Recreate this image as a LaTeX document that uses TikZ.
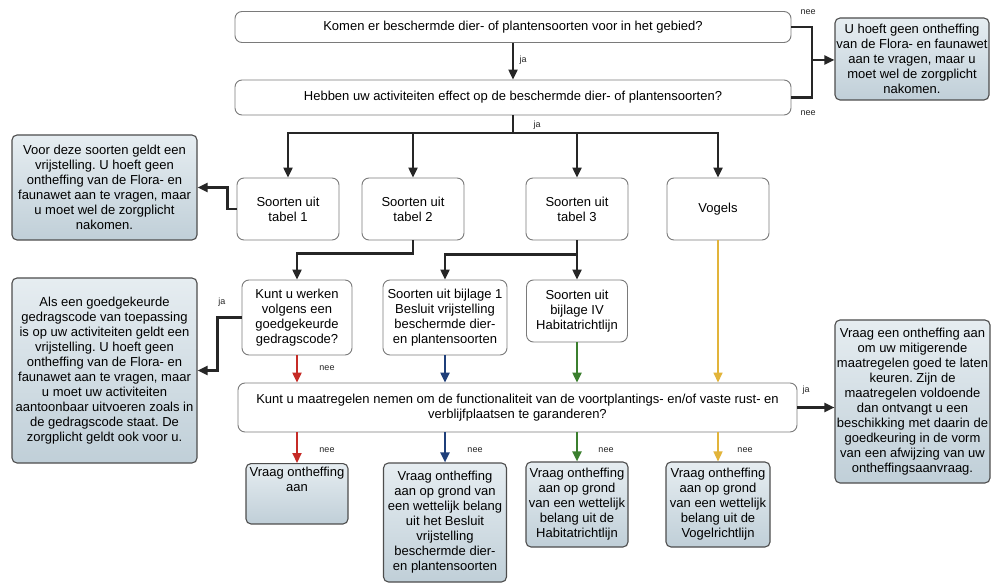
\documentclass[tikz,border=0pt]{standalone}
\usepackage{fontspec}
\setmainfont{Liberation Sans}
\usepackage{tikz}
\usetikzlibrary{arrows.meta,positioning,calc}
\definecolor{flowblack}{HTML}{262626}
\definecolor{flowred}{HTML}{C62B26}
\definecolor{flowblue}{HTML}{1F3F7A}
\definecolor{flowgreen}{HTML}{3B7F2E}
\definecolor{flowyellow}{HTML}{E2B43A}
\definecolor{boxedge}{HTML}{4D4D4D}
\definecolor{qedge}{HTML}{7A7A7A}
\definecolor{infotop}{HTML}{E6EDF1}
\definecolor{infobot}{HTML}{C0CFD8}
\frenchspacing

\begin{document}
\begin{tikzpicture}[x=1pt, y=1pt,
  question/.style={draw=qedge, line width=0.9pt, rounded corners=7pt, fill=white,
                   align=center, font=\fontsize{13}{15}\selectfont, inner sep=2pt},
  infobox/.style={draw=boxedge, line width=1.1pt, rounded corners=5pt,
                  top color=infotop, bottom color=infobot, align=center,
                  font=\fontsize{13}{15}\selectfont, inner xsep=1pt, inner ysep=2pt},
  flow/.style={draw=flowblack, line width=2.2pt, -{Triangle[length=10pt,width=9pt]}},
  link/.style={draw=flowblack, line width=2.2pt},
  colflow/.style={draw=#1, line width=2.2pt, -{Triangle[length=10pt,width=9pt]}},
  answer/.style={font=\fontsize{9}{10}\selectfont, text=flowblack, inner sep=0pt}]

  \fill[white] (0,0) rectangle (991,-585);
  \useasboundingbox (0,0) rectangle (991,-585);

  %% Top questions
  \node[question, minimum width=556, minimum height=31] (komen) at (513,-27)
    {Komen er beschermde dier- of plantensoorten voor in het gebied?};
  \node[question, minimum width=556, minimum height=35] (hebben) at (513,-97.5)
    {Hebben uw activiteiten effect op de beschermde dier- of plantensoorten?};

  \node[infobox, minimum width=154, minimum height=82] (geenont) at (912,-59)
    {U hoeft geen ontheffing\\van de Flora- en faunawet\\aan te vragen, maar u\\
     moet wel de zorgplicht\\nakomen.};

  \coordinate (neejoin) at (812,-60);
  \coordinate (jabus) at (513,-133);

  \draw[flow] (komen) -- (hebben);
  \node[answer] (ja1) at (523,-60) {ja};
  \draw[link] (komen.east) -| (neejoin);
  \draw[link] (hebben.east) -| (neejoin);
  \draw[flow] (neejoin) -- (neejoin -| geenont.west);
  \node[answer] (nee1) at (808,-12) {nee};
  \node[answer] (nee2) at (808,-113) {nee};

  %% Species groups
  \node[question, minimum width=102, minimum height=62] (tabel1) at (288,-209)
    {Soorten uit\\tabel 1};
  \node[question, minimum width=102, minimum height=62] (tabel2) at (413,-209)
    {Soorten uit\\tabel 2};
  \node[question, minimum width=102, minimum height=62] (tabel3) at (577,-209)
    {Soorten uit\\tabel 3};
  \node[question, minimum width=102, minimum height=62] (vogels) at (718,-209)
    {Vogels};

  \draw[link] (hebben.south) -- (jabus);
  \node[answer] (ja2) at (537,-125) {ja};
  \draw[flow] (jabus) -| (tabel1.north);
  \draw[flow] (jabus) -| (tabel2.north);
  \draw[flow] (jabus) -| (tabel3.north);
  \draw[flow] (jabus) -| (vogels.north);

  \node[infobox, minimum width=185, minimum height=105] (vrijst) at (104.5,-187.5)
    {Voor deze soorten geldt een\\vrijstelling. U hoeft geen\\
     ontheffing van de Flora- en\\faunawet aan te vragen, maar\\
     u moet wel de zorgplicht\\nakomen.};
  \draw[flow] (tabel1.west) -- ++(-9,0) |- (vrijst.east);

  %% Third row
  \node[question, minimum width=110, minimum height=75] (gedrag) at (297,-317.5)
    {Kunt u werken\\volgens een\\goedgekeurde\\gedragscode?};
  \node[question, minimum width=124, minimum height=75] (bijl1) at (445,-317.5)
    {Soorten uit bijlage 1\\Besluit vrijstelling\\beschermde dier-\\en plantensoorten};
  \node[question, minimum width=101, minimum height=62] (bijlIV) at (577,-311)
    {Soorten uit\\bijlage IV\\Habitatrichtlijn};

  \draw[flow] (tabel2.south) -- ++(0,-13) -| (gedrag.north);
  \draw[flow] (tabel3.south) -- (bijlIV.north);
  \draw[flow] ($(tabel3.south)+(0,-14)$) -| (bijl1.north);

  \node[infobox, minimum width=185, minimum height=185] (gedrvrij) at (104.5,-370.5)
    {Als een goedgekeurde\\gedragscode van toepassing\\is op uw activiteiten geldt een\\
     vrijstelling. U hoeft geen\\ontheffing van de Flora- en\\faunawet aan te vragen, maar\\
     u moet uw activiteiten\\aantoonbaar uitvoeren zoals in\\de gedragscode staat. De\\
     zorgplicht geldt ook voor u.};
  \draw[flow] (gedrag.west) -- ++(-24,0) |- (gedrvrij.east);
  \node[answer] (ja3) at (222,-302) {ja};

  %% Mitigation question
  \node[question, minimum width=559, minimum height=49] (maatr) at (517.5,-407.5)
    {Kunt u maatregelen nemen om de functionaliteit van de voortplantings- en/of vaste rust- en\\
     verblijfplaatsen te garanderen?};

  \draw[colflow=flowred] (gedrag.south) -- (gedrag.south |- maatr.north);
  \node[answer] (nee3) at (327,-368) {nee};
  \draw[colflow=flowblue] (bijl1.south) -- (bijl1.south |- maatr.north);
  \draw[colflow=flowgreen] (bijlIV.south) -- (bijlIV.south |- maatr.north);
  \draw[colflow=flowyellow, line width=1.5pt] (vogels.south) -- (vogels.south |- maatr.north);

  \node[infobox, minimum width=155, minimum height=163] (mitig) at (912.5,-401.5)
    {Vraag een ontheffing aan\\om uw mitigerende\\maatregelen goed te laten\\
     keuren. Zijn de\\maatregelen voldoende\\dan ontvangt u een\\
     beschikking met daarin de\\goedkeuring in de vorm\\van een afwijzing van uw\\
     ontheffingsaanvraag.};
  \draw[flow] (maatr.east) -- (maatr.east -| mitig.west);
  \node[answer] (ja4) at (806,-390) {ja};

  %% Outcomes
  \node[infobox, minimum width=102, anchor=north, inner ysep=4pt, text depth=28pt]
    (vraag1) at (297,-463) {Vraag ontheffing\\aan};
  \node[infobox, minimum width=123, minimum height=119] (vraag2) at (445,-522.5)
    {Vraag ontheffing\\aan op grond van\\een wettelijk belang\\uit het Besluit\\
     vrijstelling\\beschermde dier-\\en plantensoorten};
  \node[infobox, minimum width=102, minimum height=85] (vraag3) at (577,-504.5)
    {Vraag ontheffing\\aan op grond\\van een wettelijk\\belang uit de\\Habitatrichtlijn};
  \node[infobox, minimum width=104, minimum height=85] (vraag4) at (718,-504.5)
    {Vraag ontheffing\\aan op grond\\van een wettelijk\\belang uit de\\Vogelrichtlijn};

  \draw[colflow=flowred] (vraag1.north |- maatr.south) -- (vraag1.north);
  \draw[colflow=flowblue] (vraag2.north |- maatr.south) -- (vraag2.north);
  \draw[colflow=flowgreen] (vraag3.north |- maatr.south) -- (vraag3.north);
  \draw[colflow=flowyellow, line width=1.5pt] (vraag4.north |- maatr.south) -- (vraag4.north);
  \node[answer] (nee4) at (327,-450) {nee};
  \node[answer] (nee5) at (475,-450) {nee};
  \node[answer] (nee6) at (606,-450) {nee};
  \node[answer] (nee7) at (745,-450) {nee};

\end{tikzpicture}
\end{document}
